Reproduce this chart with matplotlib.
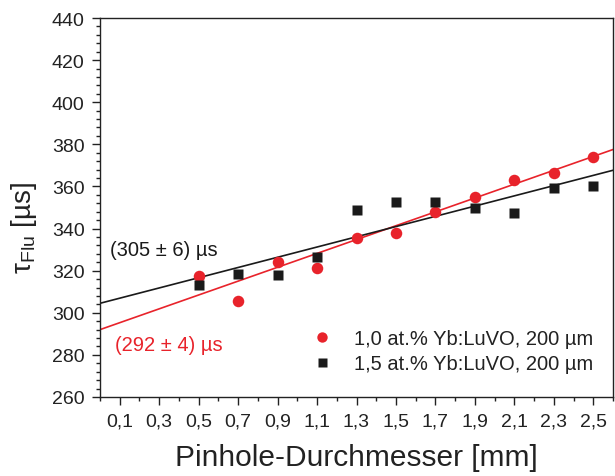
import matplotlib
matplotlib.use("Agg")
import matplotlib.pyplot as plt
import numpy as np
from matplotlib.ticker import MultipleLocator, FixedLocator

plt.rcParams['font.family'] = ['Liberation Sans', 'DejaVu Sans']

# Data
diameter = [0.5, 0.7, 0.9, 1.1, 1.3, 1.5, 1.7, 1.9, 2.1, 2.3, 2.5]
tau_10 = [317.6, 305.7, 324.1, 321.4, 335.6, 338.1, 348.0, 355.1, 362.9, 366.2, 374.1]
tau_15 = [313.0, 318.3, 317.8, 326.4, 348.6, 352.8, 352.7, 350.0, 347.4, 359.4, 360.2]
fit_intercepts = [292.0, 304.5]
fit_slopes = [32.9, 24.3]
labels = ["1,0 at.% Yb:LuVO, 200 µm", "1,5 at.% Yb:LuVO, 200 µm"]
annotations = ["(292 ± 4) µs", "(305 ± 6) µs"]
xtick_vals = [0.1, 0.3, 0.5, 0.7, 0.9, 1.1, 1.3, 1.5, 1.7, 1.9, 2.1, 2.3, 2.5]
xtick_labels = ["0,1", "0,3", "0,5", "0,7", "0,9", "1,1", "1,3", "1,5", "1,7", "1,9", "2,1", "2,3", "2,5"]

red = '#e8232b'
blk = '#1a1a1a'

fig = plt.figure(figsize=(6.15, 4.77), dpi=100)
ax = fig.add_axes([100/615, 1-398/477, 513/615, 379/477])

xl = np.array([0.0, 2.6])
ax.plot(xl, fit_intercepts[0] + fit_slopes[0]*xl, color=red, lw=1.2, zorder=2)
ax.plot(xl, fit_intercepts[1] + fit_slopes[1]*xl, color=blk, lw=1.2, zorder=2)

ax.plot(diameter, tau_10, 'o', color=red, ms=8.3, mec='none', label=labels[0], zorder=3)
ax.plot(diameter, tau_15, 's', color=blk, ms=7.2, mec='none', label=labels[1], zorder=3)

ax.set_xlim(0, 2.6)
ax.set_ylim(260, 440)

ax.xaxis.set_major_locator(FixedLocator(xtick_vals))
ax.set_xticklabels(xtick_labels)
ax.xaxis.set_minor_locator(FixedLocator(np.arange(0, 2.61, 0.2)))
ax.yaxis.set_major_locator(MultipleLocator(20))
ax.yaxis.set_minor_locator(MultipleLocator(4))

ax.tick_params(which='both', direction='out', width=1.0, labelsize=14, colors='#222222')
ax.tick_params(which='major', length=6, pad=5)
ax.tick_params(which='minor', length=3)
for s in ax.spines.values():
    s.set_linewidth(1.0)
    s.set_color('#222222')

ax.set_xlabel("Pinhole-Durchmesser [mm]", fontsize=21.5, color='#222222', labelpad=10)
ax.set_ylabel("τ$_{\\mathregular{Flu}}$ [µs]", fontsize=20, color='#222222')
ax.yaxis.set_label_coords(-0.118, 0.449)

ax.text(0.05, 330, annotations[1], fontsize=14.5, color=blk, va='center', ha='left')
ax.text(0.076, 285, annotations[0], fontsize=14.5, color=red, va='center', ha='left')

leg = ax.legend(loc='lower right', bbox_to_anchor=(0.977, 0.042), frameon=False,
                fontsize=14.5, handlelength=1.0, handletextpad=1.1, labelspacing=0.3,
                markerscale=0.9, borderaxespad=0)
for t in leg.get_texts():
    t.set_color('#222222')

fig.savefig("out.png", dpi=100)
